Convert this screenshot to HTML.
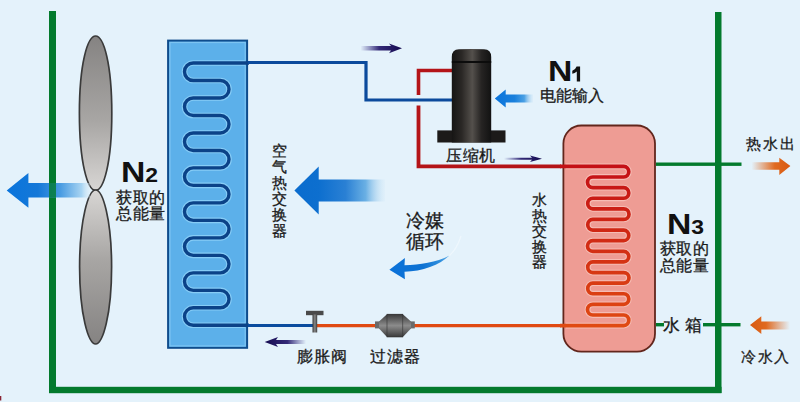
<!DOCTYPE html>
<html><head><meta charset="utf-8">
<style>
html,body{margin:0;padding:0;background:#e4f2fb;}
body{width:800px;height:402px;overflow:hidden;position:relative;font-family:"Liberation Sans",sans-serif;}
svg{position:absolute;left:0;top:0;}
.t{font-family:"Liberation Sans",sans-serif;fill:#222;}
</style></head><body>
<svg width="800" height="402" viewBox="0 0 800 402">
<defs>
<linearGradient id="bladeUp" x1="0" y1="0" x2="0" y2="1">
<stop offset="0" stop-color="#858382"/><stop offset="0.55" stop-color="#a8a6a4"/><stop offset="1" stop-color="#d8d6d4"/>
</linearGradient>
<linearGradient id="bladeDn" x1="0" y1="0" x2="0" y2="1">
<stop offset="0" stop-color="#d8d6d4"/><stop offset="0.45" stop-color="#a8a6a4"/><stop offset="1" stop-color="#858382"/>
</linearGradient>
<linearGradient id="compBody" x1="0" y1="0" x2="1" y2="0">
<stop offset="0" stop-color="#161514"/><stop offset="0.25" stop-color="#2a2725"/><stop offset="0.52" stop-color="#54504c"/><stop offset="0.75" stop-color="#262423"/><stop offset="1" stop-color="#121212"/>
</linearGradient>
<linearGradient id="arrFan" x1="6" y1="0" x2="90" y2="0" gradientUnits="userSpaceOnUse">
<stop offset="0" stop-color="#0a74dc"/><stop offset="0.38" stop-color="#1478d8"/><stop offset="0.65" stop-color="#4a9ce2"/><stop offset="0.9" stop-color="#a8d4f2"/><stop offset="1" stop-color="#d8ecf8" stop-opacity="0.3"/>
</linearGradient>
<linearGradient id="arrBig" x1="294" y1="0" x2="386" y2="0" gradientUnits="userSpaceOnUse">
<stop offset="0" stop-color="#0a6cce"/><stop offset="0.27" stop-color="#0d6fcf"/><stop offset="0.56" stop-color="#2a80d4"/><stop offset="0.78" stop-color="#6ab0e4"/><stop offset="1" stop-color="#d8ecf8" stop-opacity="0.2"/>
</linearGradient>
<linearGradient id="arrN1" x1="495" y1="0" x2="534" y2="0" gradientUnits="userSpaceOnUse">
<stop offset="0" stop-color="#0a74dc"/><stop offset="0.5" stop-color="#1a80dc"/><stop offset="0.75" stop-color="#4aa0e4"/><stop offset="1" stop-color="#d8ecf8" stop-opacity="0.2"/>
</linearGradient>
<linearGradient id="arrCurve" x1="389" y1="0" x2="450" y2="0" gradientUnits="userSpaceOnUse">
<stop offset="0" stop-color="#0a72da"/><stop offset="0.55" stop-color="#0e72d2"/><stop offset="0.85" stop-color="#3090de"/><stop offset="1" stop-color="#70b4ea"/>
</linearGradient>
<linearGradient id="arrL" x1="0" y1="0" x2="1" y2="0">
<stop offset="0" stop-color="#0a6fd0"/><stop offset="0.35" stop-color="#1a7ad4"/><stop offset="1" stop-color="#2a8ad8" stop-opacity="0"/>
</linearGradient>
<linearGradient id="navyR" x1="0" y1="0" x2="1" y2="0">
<stop offset="0" stop-color="#2a2080" stop-opacity="0"/><stop offset="0.45" stop-color="#201468" stop-opacity="0.9"/><stop offset="1" stop-color="#140a50"/>
</linearGradient>
<linearGradient id="navyL" x1="0" y1="0" x2="1" y2="0">
<stop offset="0" stop-color="#140a50"/><stop offset="0.55" stop-color="#201468" stop-opacity="0.9"/><stop offset="1" stop-color="#2a2080" stop-opacity="0"/>
</linearGradient>
<linearGradient id="orR" x1="0" y1="0" x2="1" y2="0">
<stop offset="0" stop-color="#e06a20" stop-opacity="0"/><stop offset="0.6" stop-color="#e06a20"/><stop offset="1" stop-color="#d85a12"/>
</linearGradient>
<linearGradient id="orL" x1="0" y1="0" x2="1" y2="0">
<stop offset="0" stop-color="#d85a12"/><stop offset="0.4" stop-color="#e06a20"/><stop offset="1" stop-color="#e06a20" stop-opacity="0"/>
</linearGradient>
<linearGradient id="tankCoil" x1="0" y1="166" x2="0" y2="326" gradientUnits="userSpaceOnUse">
<stop offset="0" stop-color="#c41016"/><stop offset="1" stop-color="#e04a12"/>
</linearGradient>
<linearGradient id="grey" x1="0" y1="0" x2="1" y2="0">
<stop offset="0" stop-color="#3a3a3a"/><stop offset="0.5" stop-color="#8a8a8a"/><stop offset="1" stop-color="#3a3a3a"/>
</linearGradient>
<linearGradient id="filt" x1="0" y1="0" x2="0" y2="1">
<stop offset="0" stop-color="#3a3a3a"/><stop offset="0.5" stop-color="#8c8c8c"/><stop offset="1" stop-color="#3a3a3a"/>
</linearGradient>
</defs>

<!-- green frame -->
<rect x="49" y="11" width="7" height="382" fill="#037a2d"/>
<rect x="715" y="12" width="6.5" height="381" fill="#037a2d"/>
<rect x="49" y="386.8" width="672.5" height="6.4" fill="#037a2d"/>
<rect x="656" y="162.5" width="85.5" height="3.4" fill="#037a2d"/>
<rect x="656" y="323" width="8" height="3.4" fill="#037a2d"/>
<rect x="703" y="323" width="37.5" height="3.4" fill="#037a2d"/>

<!-- fan -->
<path d="M 95.6 36.0 C 103.70 36.0 111.8 63.79 111.8 113.2 C 111.8 162.61 103.70 190.4 95.6 190.4 C 87.50 190.4 79.39999999999999 162.61 79.39999999999999 113.2 C 79.39999999999999 63.79 87.50 36.0 95.6 36.0 Z" fill="url(#bladeUp)" stroke="#3a3a3a" stroke-width="1.7"/>
<path d="M 95.6 190 C 102.80 190 111.6 219.26 111.6 267 C 111.6 314.74 102.80 344 95.6 344 C 88.40 344 79.6 314.74 79.6 267 C 79.6 219.26 88.40 190 95.6 190 Z" fill="url(#bladeDn)" stroke="#3a3a3a" stroke-width="1.7"/>

<!-- left arrow -->
<path d="M 6.7 190.6 L 28.4 173.1 L 28.4 183 L 90 183 L 90 197.5 L 28.4 197.5 L 28.4 207.8 Z" fill="url(#arrFan)"/>
<rect x="49" y="183" width="7" height="14.5" fill="#037a2d" opacity="0.8"/>

<!-- air heat exchanger -->
<rect x="168.1" y="40.6" width="79" height="307.2" fill="#5cb0ea" stroke="#0e4c8c" stroke-width="2"/>
<rect x="170" y="42.5" width="75.2" height="303.4" fill="none" stroke="#7cc4f2" stroke-width="1.2"/>
<path d="M 245 63.00 L 193.24 63.00 A 8.74 8.74 0 0 0 193.24 80.49 L 220.26 80.49 A 8.74 8.74 0 0 1 220.26 97.97 L 193.24 97.97 A 8.74 8.74 0 0 0 193.24 115.46 L 220.26 115.46 A 8.74 8.74 0 0 1 220.26 132.95 L 193.24 132.95 A 8.74 8.74 0 0 0 193.24 150.43 L 220.26 150.43 A 8.74 8.74 0 0 1 220.26 167.92 L 193.24 167.92 A 8.74 8.74 0 0 0 193.24 185.41 L 220.26 185.41 A 8.74 8.74 0 0 1 220.26 202.89 L 193.24 202.89 A 8.74 8.74 0 0 0 193.24 220.38 L 220.26 220.38 A 8.74 8.74 0 0 1 220.26 237.87 L 193.24 237.87 A 8.74 8.74 0 0 0 193.24 255.35 L 220.26 255.35 A 8.74 8.74 0 0 1 220.26 272.84 L 193.24 272.84 A 8.74 8.74 0 0 0 193.24 290.33 L 220.26 290.33 A 8.74 8.74 0 0 1 220.26 307.81 L 193.24 307.81 A 8.74 8.74 0 0 0 193.24 325.30 L 245 325.30" fill="none" stroke="#86ccf6" stroke-width="5.6" stroke-linejoin="round"/>
<path d="M 249 63.00 L 193.24 63.00 A 8.74 8.74 0 0 0 193.24 80.49 L 220.26 80.49 A 8.74 8.74 0 0 1 220.26 97.97 L 193.24 97.97 A 8.74 8.74 0 0 0 193.24 115.46 L 220.26 115.46 A 8.74 8.74 0 0 1 220.26 132.95 L 193.24 132.95 A 8.74 8.74 0 0 0 193.24 150.43 L 220.26 150.43 A 8.74 8.74 0 0 1 220.26 167.92 L 193.24 167.92 A 8.74 8.74 0 0 0 193.24 185.41 L 220.26 185.41 A 8.74 8.74 0 0 1 220.26 202.89 L 193.24 202.89 A 8.74 8.74 0 0 0 193.24 220.38 L 220.26 220.38 A 8.74 8.74 0 0 1 220.26 237.87 L 193.24 237.87 A 8.74 8.74 0 0 0 193.24 255.35 L 220.26 255.35 A 8.74 8.74 0 0 1 220.26 272.84 L 193.24 272.84 A 8.74 8.74 0 0 0 193.24 290.33 L 220.26 290.33 A 8.74 8.74 0 0 1 220.26 307.81 L 193.24 307.81 A 8.74 8.74 0 0 0 193.24 325.30 L 249 325.30" fill="none" stroke="#0b4288" stroke-width="3.4" stroke-linejoin="round"/>

<!-- blue pipe to compressor -->
<path d="M 248 62.5 L 366 62.5 L 366 100 L 452 100" fill="none" stroke="#0b4a9c" stroke-width="3.2"/>
<!-- bottom blue pipe -->
<path d="M 248 325.5 L 314 325.5" fill="none" stroke="#0a4c9e" stroke-width="3.2"/>
<!-- orange pipe -->
<path d="M 314 325.6 L 561 325.6" fill="none" stroke="#e04a12" stroke-width="3.4"/>

<!-- red pipe -->
<path d="M 452 70.5 L 418.5 70.5 L 418.5 95" fill="none" stroke="#b41418" stroke-width="3.6"/>
<path d="M 418.5 105.5 L 418.5 166.4 L 561 166.4" fill="none" stroke="#b41418" stroke-width="3.8"/>

<!-- navy arrows -->
<path d="M 360.5 46 L 391 46 L 389 43.6 L 402 48.2 L 389 53.2 L 391 50.5 L 360.5 50.5 Z" fill="url(#navyR)"/>
<path d="M 504 157.7 L 532 157.7 L 530 155.5 L 542 158.7 L 530 162 L 532 159.7 L 504 159.7 Z" fill="url(#navyR)"/>
<path d="M 264.7 341.9 L 278 337.1 L 276 340.1 L 306 340.1 L 306 343.9 L 276 343.9 L 278 346.9 Z" fill="url(#navyL)"/>

<!-- compressor -->
<rect x="437.3" y="130.4" width="68.2" height="12.1" fill="#1c1a19"/>
<path d="M 451.8 142.5 L 451.8 57 Q 451.8 49.5 459 49.3 Q 471.5 48.8 484 49.3 Q 491.2 49.5 491.2 57 L 491.2 142.5 Z" fill="url(#compBody)"/>
<rect x="451.8" y="61" width="39.4" height="2" fill="#0c0c0c"/>

<!-- N1 arrow -->
<path d="M 494.8 98.5 L 505.7 89.6 L 505.7 94.4 L 533 94.4 L 533 102.4 L 505.7 102.4 L 505.7 107.4 Z" fill="url(#arrN1)"/>

<!-- big middle arrow -->
<path d="M 294.4 190.5 L 318.7 166.6 L 318.7 179.5 L 385 179.5 L 385 201.5 L 318.7 201.5 L 318.7 214.4 Z" fill="url(#arrBig)"/>

<!-- curved arrow -->
<path d="M 449 256 Q 457 249 461 236" fill="none" stroke="#f6fcff" stroke-width="1.3" opacity="0.55"/>
<path d="M 389.4 269.8 L 404.9 258 L 404.5 265.2 C 420 264.8 436 262.5 449.5 255.5 C 440 264.8 422 271.4 404.5 271.8 L 404.9 279.2 Z" fill="url(#arrCurve)"/>

<!-- water tank -->
<rect x="563.4" y="125.5" width="91.6" height="226.2" rx="18" ry="18" fill="#ee9c94" stroke="#62261c" stroke-width="1.8"/>
<path d="M 566 166.40 L 623.69 166.40 A 5.31 5.31 0 0 1 623.69 177.01 L 592.81 177.01 A 5.31 5.31 0 0 0 592.81 187.63 L 623.69 187.63 A 5.31 5.31 0 0 1 623.69 198.24 L 592.81 198.24 A 5.31 5.31 0 0 0 592.81 208.85 L 623.69 208.85 A 5.31 5.31 0 0 1 623.69 219.47 L 592.81 219.47 A 5.31 5.31 0 0 0 592.81 230.08 L 623.69 230.08 A 5.31 5.31 0 0 1 623.69 240.69 L 592.81 240.69 A 5.31 5.31 0 0 0 592.81 251.31 L 623.69 251.31 A 5.31 5.31 0 0 1 623.69 261.92 L 592.81 261.92 A 5.31 5.31 0 0 0 592.81 272.53 L 623.69 272.53 A 5.31 5.31 0 0 1 623.69 283.15 L 592.81 283.15 A 5.31 5.31 0 0 0 592.81 293.76 L 623.69 293.76 A 5.31 5.31 0 0 1 623.69 304.37 L 592.81 304.37 A 5.31 5.31 0 0 0 592.81 314.99 L 623.69 314.99 A 5.31 5.31 0 0 1 623.69 325.60 L 566 325.60" fill="none" stroke="#f6bcb4" stroke-width="5.8" stroke-linejoin="round"/>
<path d="M 560 166.40 L 623.69 166.40 A 5.31 5.31 0 0 1 623.69 177.01 L 592.81 177.01 A 5.31 5.31 0 0 0 592.81 187.63 L 623.69 187.63 A 5.31 5.31 0 0 1 623.69 198.24 L 592.81 198.24 A 5.31 5.31 0 0 0 592.81 208.85 L 623.69 208.85 A 5.31 5.31 0 0 1 623.69 219.47 L 592.81 219.47 A 5.31 5.31 0 0 0 592.81 230.08 L 623.69 230.08 A 5.31 5.31 0 0 1 623.69 240.69 L 592.81 240.69 A 5.31 5.31 0 0 0 592.81 251.31 L 623.69 251.31 A 5.31 5.31 0 0 1 623.69 261.92 L 592.81 261.92 A 5.31 5.31 0 0 0 592.81 272.53 L 623.69 272.53 A 5.31 5.31 0 0 1 623.69 283.15 L 592.81 283.15 A 5.31 5.31 0 0 0 592.81 293.76 L 623.69 293.76 A 5.31 5.31 0 0 1 623.69 304.37 L 592.81 304.37 A 5.31 5.31 0 0 0 592.81 314.99 L 623.69 314.99 A 5.31 5.31 0 0 1 623.69 325.60 L 560 325.60" fill="none" stroke="url(#tankCoil)" stroke-width="3.7" stroke-linejoin="round"/>
<!-- expansion valve -->
<rect x="306" y="310.8" width="17.5" height="4.4" fill="#4a4a4a"/>
<rect x="312.5" y="314.5" width="4.7" height="18" fill="url(#grey)"/>

<!-- filter -->
<rect x="375" y="321.4" width="39.8" height="7" fill="#6a6a6a"/>
<path d="M 379 321.4 L 387 314.2 L 402.8 314.2 L 411 321.4 L 411 328.6 L 402.8 337 L 387 337 L 379 328.6 Z" fill="url(#filt)"/>
<rect x="387" y="314.2" width="15.8" height="22.8" fill="url(#filt)" stroke="#333" stroke-width="0.6"/>

<path d="M 576.6 66.6 L 580.1 66.6 L 580.1 81.4 L 576.8 81.4 L 576.8 71.4 Q 574.8 73.2 572.3 73.8 L 572.3 70.8 Q 575.6 69.6 576.6 66.6 Z" fill="#111"/>
<rect x="0" y="396" width="1.3" height="4.5" fill="#8a2434"/>
<!-- orange arrows -->
<path d="M 751.6 162.3 L 779.3 162.3 L 779.3 157.8 L 790.4 166 L 779.3 175 L 779.3 169.8 L 751.6 169.8 Z" fill="url(#orR)"/>
<path d="M 750 325.1 L 761.3 316.2 L 761.3 321.4 L 790 321.4 L 790 329.6 L 761.3 329.6 L 761.3 334.1 Z" fill="url(#orL)"/>
</svg>

<style>
.lb{position:absolute;color:#1a1a1a;font-family:"Liberation Sans",sans-serif;white-space:nowrap;line-height:1;-webkit-text-stroke:0.3px #1a1a1a;}
.nb{position:absolute;color:#111;font-family:"Liberation Sans",sans-serif;font-weight:bold;white-space:nowrap;line-height:1;transform-origin:0 0;}
</style>
<div class="nb" style="left:121px;top:158px;font-size:28.8px;transform:scaleX(1.17);">N<span style="font-size:19.6px;margin-left:0.0px">2</span></div>
<div class="nb" style="left:548px;top:57px;font-size:28.8px;transform:scaleX(1.17);">N<span style="font-size:19.6px;margin-left:0.0px"></span></div>
<div class="nb" style="left:667px;top:210px;font-size:28.8px;transform:scaleX(1.17);">N<span style="font-size:19.6px;margin-left:0.0px">3</span></div>
<div class="lb" style="left:116px;top:190px;font-size:15.5px;letter-spacing:0.5px;line-height:16px;">获取的<br>总能量</div>
<div class="lb" style="left:540px;top:87.5px;font-size:15.5px;letter-spacing:0px;">电能输入</div>
<div class="lb" style="left:660px;top:239.5px;font-size:16px;letter-spacing:0.3px;line-height:17px;">获取的<br>总能量</div>
<div class="lb" style="left:446px;top:147.5px;font-size:15.5px;letter-spacing:0.5px;">压缩机</div>
<div class="lb" style="left:271px;top:143px;font-size:14.5px;letter-spacing:0px;line-height:16px;width:16px;text-align:center;">空<br>气<br>热<br>交<br>换<br>器</div>
<div class="lb" style="left:531px;top:192px;font-size:15px;letter-spacing:0px;line-height:15.5px;width:17px;text-align:center;">水<br>热<br>交<br>换<br>器</div>
<div class="lb" style="left:405.5px;top:210px;font-size:18.5px;letter-spacing:0.5px;line-height:21px;">冷媒<br>循环</div>
<div class="lb" style="left:297px;top:348.5px;font-size:16px;letter-spacing:1px;">膨胀阀</div>
<div class="lb" style="left:370px;top:348.5px;font-size:16px;letter-spacing:0.8px;">过滤器</div>
<div class="lb" style="left:663px;top:317px;font-size:17px;letter-spacing:4.5px;">水箱</div>
<div class="lb" style="left:746px;top:136px;font-size:15px;letter-spacing:2px;">热水出</div>
<div class="lb" style="left:741px;top:349px;font-size:15px;letter-spacing:1.5px;">冷水入</div>
</body></html>
